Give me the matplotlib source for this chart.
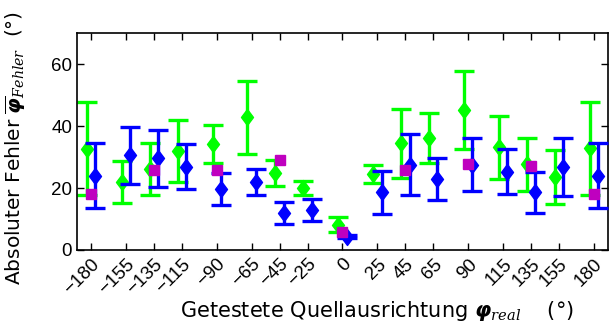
"""
Absolute error of estimated source orientation per tested direction.
"""

import matplotlib
matplotlib.use('Agg')
import matplotlib.pyplot as plt
import numpy as np
from matplotlib.path import Path

plt.rcParams['font.family'] = ['Liberation Sans', 'DejaVu Sans']
plt.rcParams['mathtext.fontset'] = 'custom'
plt.rcParams['mathtext.it'] = 'DejaVu Serif:italic'
plt.rcParams['mathtext.rm'] = 'DejaVu Sans'
plt.rcParams['mathtext.bf'] = 'DejaVu Sans:bold:italic'
plt.rcParams['mathtext.bfit'] = 'DejaVu Sans:bold:italic'

# tested directions (deg)
angles = [-180, -155, -135, -115, -90, -65, -45, -25, 0, 25, 45, 65, 90, 115, 135, 155, 180]

# green series: mean and error
green_mean = [32.7, 21.9, 26.1, 32.1, 34.2, 42.8, 24.9, 20.0, 8.1, 24.6, 34.4, 36.1, 45.2, 33.2, 27.7, 23.7, 32.8]
green_err = [15.1, 6.8, 8.5, 10.0, 6.2, 11.7, 4.3, 2.2, 2.4, 3.0, 11.2, 8.0, 12.5, 10.2, 8.5, 8.7, 15.1]

# blue series: mean and error
blue_mean = [24.0, 30.6, 29.6, 26.9, 19.7, 22.0, 11.9, 12.9, 4.3, 18.6, 27.6, 23.0, 27.6, 25.3, 18.6, 26.8, 24.0]
blue_err = [10.5, 9.2, 9.2, 7.2, 5.2, 4.2, 3.5, 3.5, 0.4, 6.9, 9.9, 6.7, 8.5, 7.2, 6.6, 9.3, 10.4]

# magenta squares (every 45 deg)
mag_angles = [-180, -135, -90, -45, 0, 45, 90, 135, 180]
mag_vals = [18.0, 25.9, 25.9, 28.9, 5.9, 25.9, 27.9, 27.0, 18.0]

offset = 3

# slightly tall diamond, like the MATLAB one
diamond = Path([(0, 1), (0.75, 0), (0, -1), (-0.75, 0), (0, 1)],
               [Path.MOVETO, Path.LINETO, Path.LINETO, Path.LINETO, Path.CLOSEPOLY])

fig = plt.figure(figsize=(6.11, 3.32), dpi=100)
ax = fig.add_axes([0.126, 0.247, 0.869, 0.653])

x = np.array(angles)
ax.errorbar(x - offset, green_mean, yerr=green_err, fmt='none', ecolor='#00ff00',
            elinewidth=2.4, capsize=7.5, capthick=2.4, zorder=2)
ax.plot(x - offset, green_mean, ls='none', marker=diamond, ms=11.5,
        color='#00ff00', zorder=2)
ax.errorbar(x + offset, blue_mean, yerr=blue_err, fmt='none', ecolor='#0000ff',
            elinewidth=2.4, capsize=7.5, capthick=2.4, zorder=3)
ax.plot(x + offset, blue_mean, ls='none', marker=diamond, ms=11.5,
        color='#0000ff', zorder=3)
ax.plot(mag_angles, mag_vals, 's', color='#bf00bf', ms=7, zorder=4)

ax.set_xlim(-190, 190)
ax.set_ylim(0, 70)
ax.set_xticks(angles)
ax.set_xticklabels([f'{a}'.replace('-', '\u2212') for a in angles],
                   rotation=45, ha='right', rotation_mode='anchor')
ax.set_yticks([0, 20, 40, 60])
ax.tick_params(direction='in', top=True, right=True, labelsize=13.5, length=5,
               width=1)
ax.tick_params(axis='x', pad=4)
for sp in ax.spines.values():
    sp.set_linewidth(1.2)

ax.set_xlabel(r'Getestete Quellausrichtung $\boldsymbol{\varphi}_{real}$    (°)',
              fontsize=15, family='DejaVu Sans')
ax.xaxis.set_label_coords(0.565, -0.225)
ax.set_ylabel(r'Absoluter Fehler $\overline{\boldsymbol{\varphi}}_{Fehler}$  (°)',
              fontsize=14.5, family='DejaVu Sans')
ax.yaxis.set_label_coords(-0.092, 0.47)

plt.savefig('out.png', dpi=100)
plt.close()
